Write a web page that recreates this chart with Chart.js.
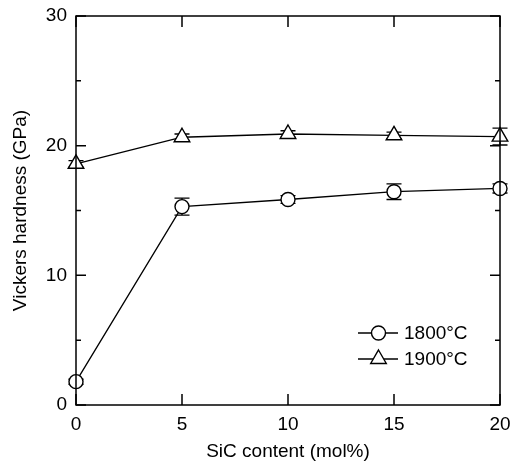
<!DOCTYPE html>
<html>
<head>
<meta charset="utf-8">
<script src="https://cdn.jsdelivr.net/npm/chart.js@4"></script>
<style>
  html, body { margin: 0; padding: 0; background: #fff; }
  #wrap { width: 516px; height: 463px; }
</style>
</head>
<body>
<div id="wrap"><canvas id="chart" width="516" height="463"></canvas></div>
<script>
const sicContent = [0, 5, 10, 15, 20];
const hardness1800 = [1.8, 15.3, 15.85, 16.45, 16.7];
const error1800 = [0.2, 0.65, 0.3, 0.6, 0.35];
const hardness1900 = [18.6, 20.65, 20.9, 20.8, 20.7];
const error1900 = [0.25, 0.25, 0.25, 0.25, 0.65];
const xTicks = [0, 5, 10, 15, 20];
const yTicks = [0, 10, 20, 30];
const yMinorTicks = [5, 15, 25];

const FONT = "'Liberation Sans', Arial, sans-serif";

const toPoints = (ys) => sicContent.map((x, i) => ({ x: x, y: ys[i] }));

// error bars under the markers, boxed frame with inward ticks on top
const framePlugin = {
  id: "frame",
  beforeDatasetsDraw(chart) {
    const ctx = chart.ctx;
    const xs = chart.scales.x;
    const ys = chart.scales.y;
    ctx.save();
    ctx.strokeStyle = "#000";
    ctx.lineWidth = 1.3;
    const errs = [error1800, error1900];
    chart.data.datasets.forEach((ds, di) => {
      ds.data.forEach((p, i) => {
        const e = errs[di][i];
        const px = xs.getPixelForValue(p.x);
        const top = ys.getPixelForValue(p.y + e);
        const bot = ys.getPixelForValue(p.y - e);
        ctx.beginPath();
        ctx.moveTo(px, top); ctx.lineTo(px, bot);
        ctx.moveTo(px - 7.5, top); ctx.lineTo(px + 7.5, top);
        ctx.moveTo(px - 7.5, bot); ctx.lineTo(px + 7.5, bot);
        ctx.stroke();
      });
    });
    ctx.restore();
  },
  afterDatasetsDraw(chart) {
    const ctx = chart.ctx;
    const xs = chart.scales.x;
    const ys = chart.scales.y;
    const area = chart.chartArea;
    ctx.save();
    ctx.strokeStyle = "#000";
    ctx.lineWidth = 1.5;
    ctx.strokeRect(area.left, area.top, area.right - area.left, area.bottom - area.top);
    ctx.beginPath();
    xTicks.forEach((v) => {
      const px = xs.getPixelForValue(v);
      ctx.moveTo(px, area.bottom); ctx.lineTo(px, area.bottom - 11);
      ctx.moveTo(px, area.top); ctx.lineTo(px, area.top + 11);
    });
    yTicks.forEach((v) => {
      const py = ys.getPixelForValue(v);
      ctx.moveTo(area.left, py); ctx.lineTo(area.left + 10, py);
      ctx.moveTo(area.right, py); ctx.lineTo(area.right - 10, py);
    });
    yMinorTicks.forEach((v) => {
      const py = ys.getPixelForValue(v);
      ctx.moveTo(area.left, py); ctx.lineTo(area.left + 5, py);
      ctx.moveTo(area.right, py); ctx.lineTo(area.right - 5, py);
    });
    ctx.stroke();
    ctx.restore();
  },
};

const legendPlugin = {
  id: "legendBox",
  afterDraw(chart) {
    const ctx = chart.ctx;
    const items = [
      { label: "1800°C", style: "circle", r: 7, y: 333 },
      { label: "1900°C", style: "triangle", r: 9, y: 359 },
    ];
    ctx.save();
    items.forEach((it) => {
      ctx.strokeStyle = "#000";
      ctx.lineWidth = 1.3;
      ctx.beginPath();
      ctx.moveTo(358, it.y); ctx.lineTo(398, it.y);
      ctx.stroke();
      ctx.fillStyle = "#fff";
      ctx.lineWidth = 1.4;
      Chart.helpers.drawPoint(ctx, { pointStyle: it.style, radius: it.r, borderWidth: 1.4 }, 378.5, it.y);
      ctx.fillStyle = "#000";
      ctx.font = "19px " + FONT;
      ctx.textBaseline = "middle";
      ctx.fillText(it.label, 404, it.y + 1);
    });
    ctx.restore();
  },
};

const myChart = new Chart(document.getElementById("chart"), {
  type: "scatter",
  data: {
    datasets: [
      {
        label: "1800°C",
        data: toPoints(hardness1800),
        showLine: true,
        borderColor: "#000",
        borderWidth: 1.3,
        pointStyle: "circle",
        pointRadius: 7,
        pointBorderWidth: 1.4,
        pointBackgroundColor: "#fff",
        pointBorderColor: "#000",
        clip: false,
      },
      {
        label: "1900°C",
        data: toPoints(hardness1900),
        showLine: true,
        borderColor: "#000",
        borderWidth: 1.3,
        pointStyle: "triangle",
        pointRadius: 9,
        pointBorderWidth: 1.4,
        pointBackgroundColor: "#fff",
        pointBorderColor: "#000",
        clip: false,
      },
    ],
  },
  options: {
    responsive: false,
    animation: false,
    layout: { padding: { top: 16, right: 16, left: 0, bottom: 0 } },
    plugins: {
      tooltip: { enabled: false },
      legend: { display: false },
    },
    scales: {
      x: {
        type: "linear",
        min: 0,
        max: 20,
        afterFit: (s) => { s.height = 58; },
        afterBuildTicks: (s) => { s.ticks = xTicks.map((v) => ({ value: v })); },
        grid: { display: false },
        border: { display: false },
        ticks: { color: "#000", font: { family: FONT, size: 19 }, padding: 0 },
        title: { display: true, text: "SiC content (mol%)", color: "#000", font: { family: FONT, size: 19 }, padding: { top: 0, bottom: 0 } },
      },
      y: {
        type: "linear",
        min: 0,
        max: 30,
        afterFit: (s) => { s.width = 76; },
        afterBuildTicks: (s) => { s.ticks = yTicks.map((v) => ({ value: v })); },
        grid: { display: false },
        border: { display: false },
        ticks: { color: "#000", font: { family: FONT, size: 19 }, padding: 1 },
        title: { display: true, text: "Vickers hardness (GPa)", color: "#000", font: { family: FONT, size: 19 }, padding: { top: 9, bottom: 0 } },
      },
    },
  },
  plugins: [framePlugin, legendPlugin],
});
</script>
</body>
</html>
